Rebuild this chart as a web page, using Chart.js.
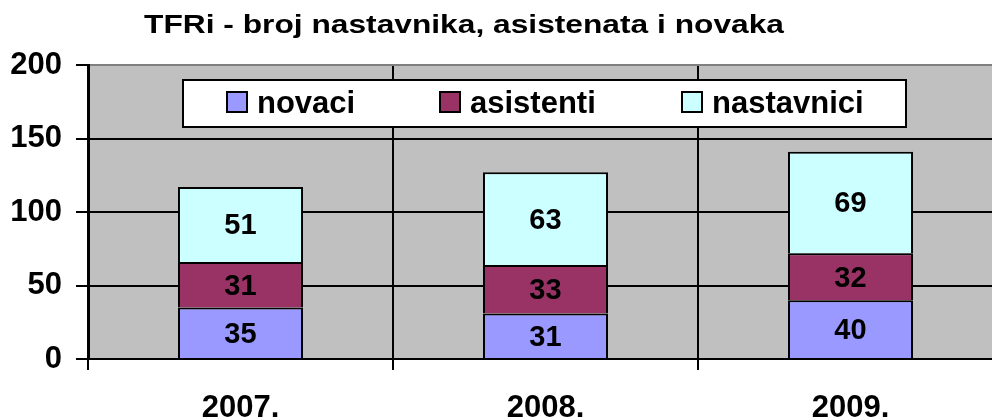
<!DOCTYPE html>
<html lang="hr">
<head>
    <meta charset="UTF-8">
    <title>TFRi - broj nastavnika, asistenata i novaka</title>
    <script src="https://cdn.jsdelivr.net/npm/chart.js@4"></script>
    <style>
        html, body { margin: 0; padding: 0; background: #fff; overflow: hidden; }
        #graf { width: 1010px; height: 420px; }
    </style>
</head>
<body>
    <div id="graf">
        <canvas id="grafikon"></canvas>
    </div>

<script>
    // podaci
    const godine = ['2007.', '2008.', '2009.'];
    const novaci = [35, 31, 40];
    const asistenti = [31, 33, 32];
    const nastavnici = [51, 63, 69];
    const yOznake = [0, 50, 100, 150, 200];

    const FONT = "'Liberation Sans', Arial, sans-serif";

    // siva pozadina područja grafa
    const pozadina = {
        id: 'pozadina',
        beforeDraw(chart) {
            const a = chart.chartArea;
            const ctx = chart.ctx;
            ctx.save();
            ctx.fillStyle = '#C0C0C0';
            ctx.fillRect(a.left, a.top, a.right - a.left, a.bottom - a.top);
            ctx.restore();
        }
    };

    // naslov (malo razvučen vodoravno)
    const naslov = {
        id: 'naslov',
        afterDraw(chart) {
            const ctx = chart.ctx;
            ctx.save();
            ctx.font = 'bold 26px ' + FONT;
            ctx.fillStyle = '#000';
            ctx.textAlign = 'center';
            ctx.textBaseline = 'alphabetic';
            ctx.translate(464, 33);
            ctx.scale(1.22, 1);
            ctx.fillText('TFRi - broj nastavnika, asistenata i novaka', 0, 0);
            ctx.restore();
        }
    };

    // brojevi na stupcima
    const vrijednosti = {
        id: 'vrijednosti',
        afterDatasetsDraw(chart) {
            const ctx = chart.ctx;
            ctx.save();
            ctx.font = 'bold 29px ' + FONT;
            ctx.fillStyle = '#000';
            ctx.textAlign = 'center';
            ctx.textBaseline = 'middle';
            chart.data.datasets.forEach((ds, i) => {
                chart.getDatasetMeta(i).data.forEach((bar, j) => {
                    ctx.fillText(ds.data[j], bar.x, (bar.y + bar.base) / 2 + 2);
                });
            });
            ctx.restore();
        }
    };

    // legenda u okviru
    const legenda = {
        id: 'legenda',
        afterDraw(chart) {
            const ctx = chart.ctx;
            ctx.save();
            ctx.fillStyle = '#fff';
            ctx.fillRect(183, 80, 723, 47);
            ctx.strokeStyle = '#000';
            ctx.lineWidth = 2;
            ctx.strokeRect(183, 80, 723, 47);
            const xPoz = [227, 440, 682];
            ctx.font = 'bold 31px ' + FONT;
            ctx.textBaseline = 'middle';
            chart.data.datasets.forEach((ds, i) => {
                ctx.fillStyle = ds.backgroundColor;
                ctx.fillRect(xPoz[i], 92, 20, 20);
                ctx.strokeRect(xPoz[i], 92, 20, 20);
                ctx.fillStyle = '#000';
                ctx.fillText(ds.label, xPoz[i] + 30, 104);
            });
            ctx.restore();
        }
    };

    const ctx = document.getElementById('grafikon');

    new Chart(ctx, {
        type: 'bar',
        data: {
            labels: godine,
            datasets: [{
                label: 'novaci',
                data: novaci,
                backgroundColor: '#9999FF'
            },
            {
                label: 'asistenti',
                data: asistenti,
                backgroundColor: '#993366'
            },
            {
                label: 'nastavnici',
                data: nastavnici,
                backgroundColor: '#CCFFFF'
            }]
        },
        options: {
            responsive: true,
            maintainAspectRatio: false,
            animation: false,
            layout: { padding: { top: 65, right: 7, left: 0, bottom: 0 } },
            datasets: {
                bar: {
                    borderColor: '#000',
                    borderWidth: { top: 2, left: 2, right: 2, bottom: 0 },
                    borderSkipped: false,
                    barPercentage: 0.41,
                    categoryPercentage: 1.0
                }
            },
            plugins: {
                legend: { display: false },
                title: { display: false },
                tooltip: { enabled: false }
            },
            scales: {
                x: {
                    stacked: true,
                    afterFit(scale) { scale.height = 61; },
                    grid: {
                        offset: true,
                        color: '#000',
                        lineWidth: 2,
                        tickLength: 11
                    },
                    border: { color: '#000', width: 2 },
                    ticks: {
                        color: '#000',
                        padding: 20,
                        font: { family: FONT, size: 31, weight: 'bold' }
                    }
                },
                y: {
                    stacked: true,
                    min: 0,
                    max: 200,
                    afterFit(scale) { scale.width = 88; },
                    afterBuildTicks(scale) {
                        scale.ticks = yOznake.map(v => ({ value: v }));
                    },
                    grid: {
                        color: c => c.tick && c.tick.value === 200 ? '#808080' : '#000',
                        tickColor: '#000',
                        lineWidth: 2,
                        tickLength: 12
                    },
                    border: { color: '#000', width: 3 },
                    ticks: {
                        color: '#000',
                        padding: 14,
                        font: { family: FONT, size: 31, weight: 'bold' }
                    }
                }
            }
        },
        plugins: [pozadina, vrijednosti, legenda, naslov]
    });
</script>
</body>
</html>
